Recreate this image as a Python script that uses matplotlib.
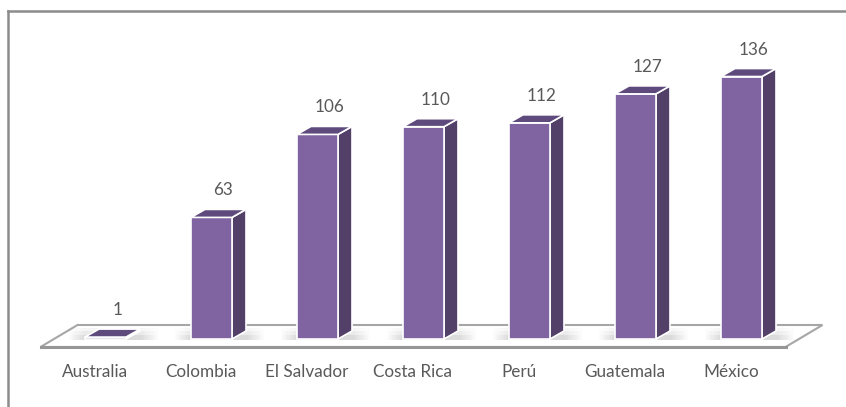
import matplotlib.pyplot as plt
from matplotlib.patches import Polygon
from matplotlib.lines import Line2D

countries = ["Australia", "Colombia", "El Salvador", "Costa Rica", "Perú", "Guatemala", "México"]
values = [1, 63, 106, 110, 112, 127, 136]

FRONT = "#8064a2"
SIDE = "#524068"
TOP = "#5e4a7d"
TEXT = "#595959"
FONT = "Lato"
FSIZE = 12.3

# pixel -> data scale (x: one unit per category, y: value units)
PX_X = 106.0
PX_Y = 1.93

W = 41 / PX_X          # front face width
DX = 14 / PX_X         # depth offset, x
DY = 8 / PX_Y          # depth offset, y

fig = plt.figure(figsize=(8.46, 4.07), dpi=100)
ax = fig.add_axes([0, 0, 1, 1])
ax.set_xlim(-105.5 / PX_X, (846 - 105.5) / PX_X)
ax.set_ylim((339 - 407) / PX_Y, 339 / PX_Y)
ax.axis("off")

# floor
y_front = -8 / PX_Y
y_back = 14 / PX_Y
x0 = -65 / PX_X
x1 = 680 / PX_X
fx = 37 / PX_X
floor = Polygon([(x0, y_front), (x1, y_front), (x1 + fx, y_back), (x0 + fx, y_back)],
                closed=True, facecolor="white", edgecolor="#a6a6a6", lw=1.5, zorder=1)
ax.add_patch(floor)
ax.plot([x0, x1], [y_front, y_front], color="#969696", lw=2.2, zorder=1.5)

for i, v in enumerate(values):
    l = i - W / 2
    r = i + W / 2
    # soft shadow band at the base, fading sideways and upwards
    n = 10
    for j, (sy0, sy1, base) in enumerate([(-1, 4, 0.28), (4, 8, 0.16), (8, 11, 0.07)]):
        sy0, sy1 = sy0 / PX_Y, sy1 / PX_Y
        for k in range(n):
            a = base * (1 - k / n)
            gl0 = l - (k + 1) * 1.6 / PX_X
            gl1 = l - k * 1.6 / PX_X
            ax.add_patch(Polygon([(gl0, sy0), (gl1, sy0), (gl1, sy1), (gl0, sy1)],
                                 facecolor="#7f7f7f", edgecolor="none", alpha=a, zorder=2))
            gr0 = r + DX + k * 1.8 / PX_X
            gr1 = r + DX + (k + 1) * 1.8 / PX_X
            ax.add_patch(Polygon([(gr0, sy0), (gr1, sy0), (gr1, sy1), (gr0, sy1)],
                                 facecolor="#7f7f7f", edgecolor="none", alpha=a, zorder=2))
        ax.add_patch(Polygon([(l, sy0), (r + DX, sy0), (r + DX, sy1), (l, sy1)],
                             facecolor="#7f7f7f", edgecolor="none", alpha=base, zorder=2))
    front = Polygon([(l, 0), (r, 0), (r, v), (l, v)], closed=True,
                    facecolor=FRONT, edgecolor="white", lw=1.2, zorder=4)
    side = Polygon([(r, 0), (r + DX, DY), (r + DX, v + DY), (r, v)], closed=True,
                   facecolor=SIDE, edgecolor="white", lw=1.2, zorder=3)
    top = Polygon([(l, v), (r, v), (r + DX, v + DY), (l + DX, v + DY)], closed=True,
                  facecolor=TOP, edgecolor="white", lw=1.2, zorder=5)
    ax.add_patch(side)
    ax.add_patch(front)
    ax.add_patch(top)
    ax.text(i + 0.11, v + DY + 19 / PX_Y, str(v), ha="center", va="center",
            fontsize=FSIZE, color=TEXT, family=FONT, zorder=6)
    ax.text(i - 0.1, -33 / PX_Y, countries[i], ha="center", va="center",
            fontsize=FSIZE, color=TEXT, family=FONT, zorder=6)

# chart frame (only left and top edges visible)
fig.add_artist(Line2D([8 / 846, 8 / 846], [0, 1 - 11 / 407], color="#8c8c8c", lw=1.8))
fig.add_artist(Line2D([8 / 846, 1], [1 - 11 / 407, 1 - 11 / 407], color="#8c8c8c", lw=1.8))

fig.savefig("out.png", dpi=100)
